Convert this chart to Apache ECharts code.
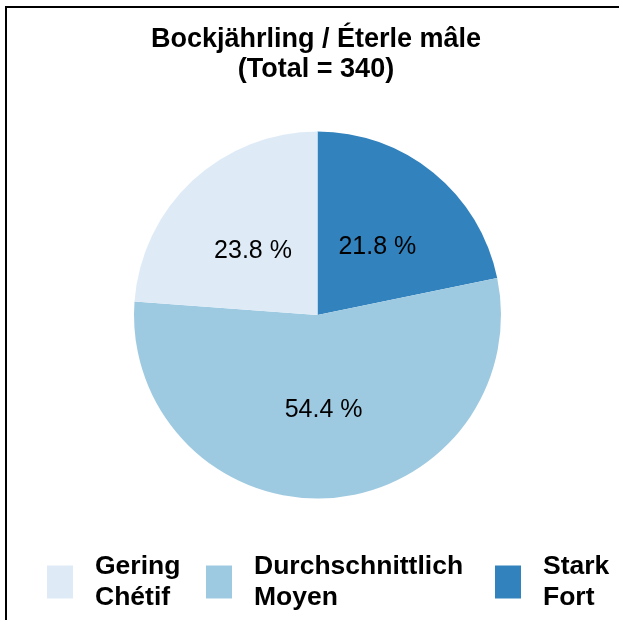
<!DOCTYPE html>
<html>
<head>
<meta charset="utf-8">
<script src="https://cdn.jsdelivr.net/npm/echarts@6/dist/echarts.min.js"></script>
<style>
html,body{margin:0;padding:0;background:#fff;}
#chart{width:619px;height:620px;}
</style>
</head>
<body>
<div id="chart"></div>
<script>
// Data (clockwise from 12 o'clock)
var categories = ["Stark\nFort", "Durchschnittlich\nMoyen", "Gering\nChétif"];
var counts = [74, 185, 81];
var percentLabels = ["21.8 %", "54.4 %", "23.8 %"];
var colors = ["#3182bd", "#9ecae1", "#deebf7"];
var titleText = "Bockjährling / Éterle mâle\n(Total = 340)";
var legendOrder = ["Gering\nChétif", "Durchschnittlich\nMoyen", "Stark\nFort"];

var FONT = "'Liberation Sans', Arial, sans-serif";
var chart = echarts.init(document.getElementById('chart'), null, {renderer: 'canvas'});

var legendLeft = [47, 206, 495];
var legends = legendOrder.map(function (name, i) {
  return {
    data: [name],
    left: legendLeft[i],
    top: 547,
    orient: 'horizontal',
    padding: 0,
    itemWidth: 26,
    itemHeight: 33,
    selectedMode: false,
    icon: 'rect',
    textStyle: {
      fontFamily: FONT,
      fontWeight: 'bold',
      fontSize: 26.5,
      lineHeight: 31,
      color: '#000',
      padding: [8, 0, 0, 17]
    }
  };
});

var labelOffsets = [[0, 6], [0, 1], [0, 6]];

chart.setOption({
  animation: false,
  backgroundColor: '#fff',
  legend: legends,
  graphic: [{
    type: 'polyline',
    shape: {points: [[6, 620], [6, 7], [619, 7]]},
    style: {stroke: '#000', lineWidth: 2, fill: null}
  }, {
    type: 'text',
    x: 316,
    y: 25,
    style: {
      text: titleText,
      align: 'center',
      verticalAlign: 'top',
      fontFamily: FONT,
      fontWeight: 'bold',
      fontSize: 27,
      lineHeight: 30,
      fill: '#000'
    }
  }],
  series: [{
    type: 'pie',
    center: [317.5, 315],
    radius: [0, 183.5],
    startAngle: 90,
    clockwise: true,
    silent: true,
    label: {
      show: true,
      position: 'inside',
      fontFamily: FONT,
      fontSize: 25,
      color: '#000',
      formatter: function (p) { return percentLabels[p.dataIndex]; }
    },
    labelLine: {show: false},
    itemStyle: {borderWidth: 0},
    data: categories.map(function (c, i) {
      return {name: c, value: counts[i], itemStyle: {color: colors[i]},
              label: {offset: labelOffsets[i]}};
    })
  }]
});
</script>
</body>
</html>
